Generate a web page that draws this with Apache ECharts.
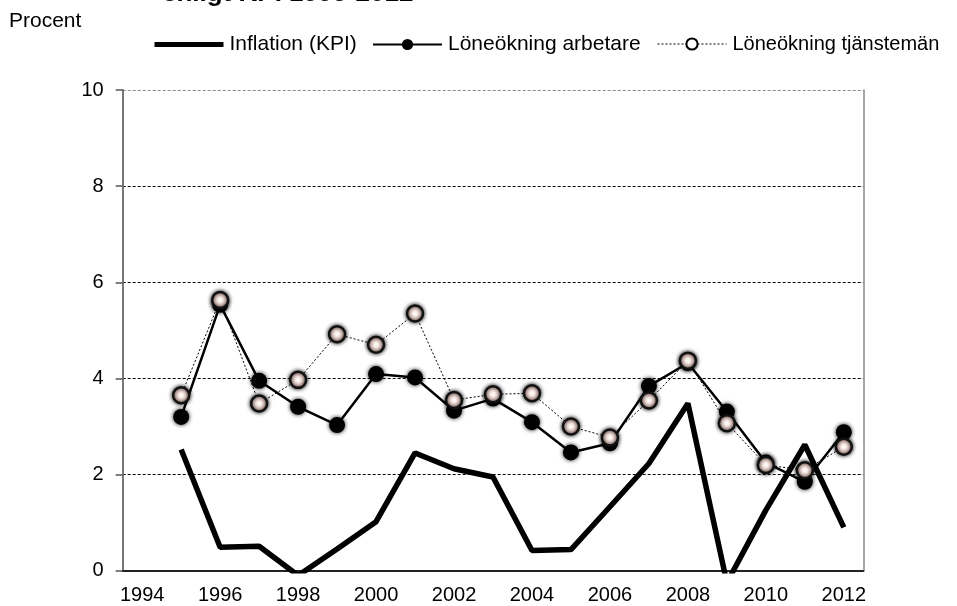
<!DOCTYPE html>
<html>
<head>
<meta charset="utf-8">
<script src="https://cdn.jsdelivr.net/npm/echarts@6/dist/echarts.min.js"></script>
<style>
  html, body { margin: 0; padding: 0; background: #fff; }
  #chart { width: 957px; height: 606px; }
</style>
</head>
<body>
<div id="chart"></div>
<script>
// kategorier: 1994 saknar värden, punkterna börjar 1995
var years = ['1994', '1995', '1996', '1997', '1998', '1999', '2000', '2001', '2002', '2003',
  '2004', '2005', '2006', '2007', '2008', '2009', '2010', '2011', '2012']
var inflation = [null, 2.52, 0.49, 0.51, -0.1, 0.45, 1.02, 2.45, 2.12, 1.95,
  0.42, 0.44, 1.33, 2.23, 3.48, -0.25, 1.26, 2.62, 0.9]
var arbetare = [null, 3.2, 5.53, 3.95, 3.41, 3.03, 4.09, 4.02, 3.33, 3.58,
  3.09, 2.46, 2.65, 3.84, 4.32, 3.31, 2.25, 1.85, 2.88]
var tjansteman = [null, 3.65, 5.63, 3.48, 3.97, 4.92, 4.7, 5.35, 3.55, 3.67,
  3.69, 3.0, 2.77, 3.54, 4.37, 3.07, 2.2, 2.09, 2.58]
var yTicks = [0, 2, 4, 6, 8, 10]

var FONT = '"Liberation Sans", Arial, sans-serif'

var chart = echarts.init(document.getElementById('chart'))

function legendAt(left, fontSize, item) {
  return {
    left: left,
    top: 34,
    padding: 0,
    itemWidth: 69,
    itemHeight: 14,
    textStyle: { fontSize: fontSize, color: '#000', padding: [0, 0, 0, 1] },
    data: [item]
  }
}

chart.setOption({
  animation: false,
  textStyle: { fontFamily: FONT },
  graphic: [
    {
      type: 'text', left: 162, top: -19,
      style: { text: 'enligt KPI 1995-2012', font: 'bold 26px ' + FONT, fill: '#000' }
    },
    {
      type: 'text', left: 9, top: 11,
      style: { text: 'Procent', font: '21px ' + FONT, fill: '#000' }
    }
  ],
  legend: [
    legendAt(152, 21, { name: 'Inflation (KPI)', lineStyle: { width: 5, color: '#000' },
      itemStyle: { color: 'rgba(0,0,0,0)', borderWidth: 0 } }),
    legendAt(372, 21, { name: 'Löneökning arbetare', lineStyle: { width: 2, color: '#000' },
      itemStyle: { color: '#000', borderWidth: 0 } }),
    legendAt(657, 20, { name: 'Löneökning tjänstemän', lineStyle: { width: 1, color: '#000', type: [2, 2] },
      itemStyle: { color: '#fff', borderColor: '#000', borderWidth: 2 } })
  ],
  grid: { left: 122.7, right: 93.7, top: 90, bottom: 35.3 },
  xAxis: {
    type: 'category',
    data: years,
    boundaryGap: true,
    axisLine: { lineStyle: { color: '#222', width: 2 } },
    axisTick: { interval: 0, length: 6, lineStyle: { color: '#666', width: 1.5 } },
    axisLabel: { interval: 1, fontSize: 20, color: '#000', margin: 15 },
    splitLine: { show: false }
  },
  yAxis: [
    {
      type: 'value',
      min: yTicks[0],
      max: yTicks[yTicks.length - 1],
      interval: 2,
      axisLine: { show: true, lineStyle: { color: '#777', width: 2 } },
      axisTick: { show: true, length: 7, lineStyle: { color: '#555', width: 1.5 } },
      axisLabel: { fontSize: 20, color: '#000', margin: 19 },
      splitLine: {
        show: true,
        lineStyle: { color: ['#000', '#000', '#000', '#000', '#000', '#888'], type: [3, 2], width: 1 }
      }
    },
    {
      type: 'value',
      position: 'right',
      min: 0, max: 10,
      axisLine: { show: true, lineStyle: { color: '#888', width: 1.5 } },
      axisTick: { show: false },
      axisLabel: { show: false },
      splitLine: { show: false }
    }
  ],
  series: [
    {
      name: 'Inflation (KPI)',
      type: 'line',
      data: inflation,
      symbol: 'none',
      lineStyle: { color: '#000', width: 5.5 },
      itemStyle: { color: '#000' }
    },
    {
      name: 'Löneökning arbetare',
      type: 'line',
      data: arbetare,
      symbol: 'circle',
      symbolSize: 16,
      lineStyle: { color: '#000', width: 2.5 },
      itemStyle: { color: '#000', shadowBlur: 4, shadowColor: 'rgba(0,0,0,0.9)' }
    },
    {
      name: 'Löneökning tjänstemän',
      type: 'line',
      data: tjansteman,
      symbol: 'circle',
      symbolSize: 16,
      lineStyle: { color: '#000', width: 1, type: [2, 2] },
      itemStyle: {
        color: {
          type: 'radial', x: 0.5, y: 0.5, r: 0.5,
          colorStops: [
            { offset: 0, color: '#ffffff' },
            { offset: 0.45, color: '#fbe6e0' },
            { offset: 1, color: '#d9a89c' }
          ]
        },
        borderColor: '#111',
        borderWidth: 2.5,
        shadowBlur: 4,
        shadowColor: 'rgba(0,0,0,0.9)'
      }
    }
  ]
})
</script>
</body>
</html>
